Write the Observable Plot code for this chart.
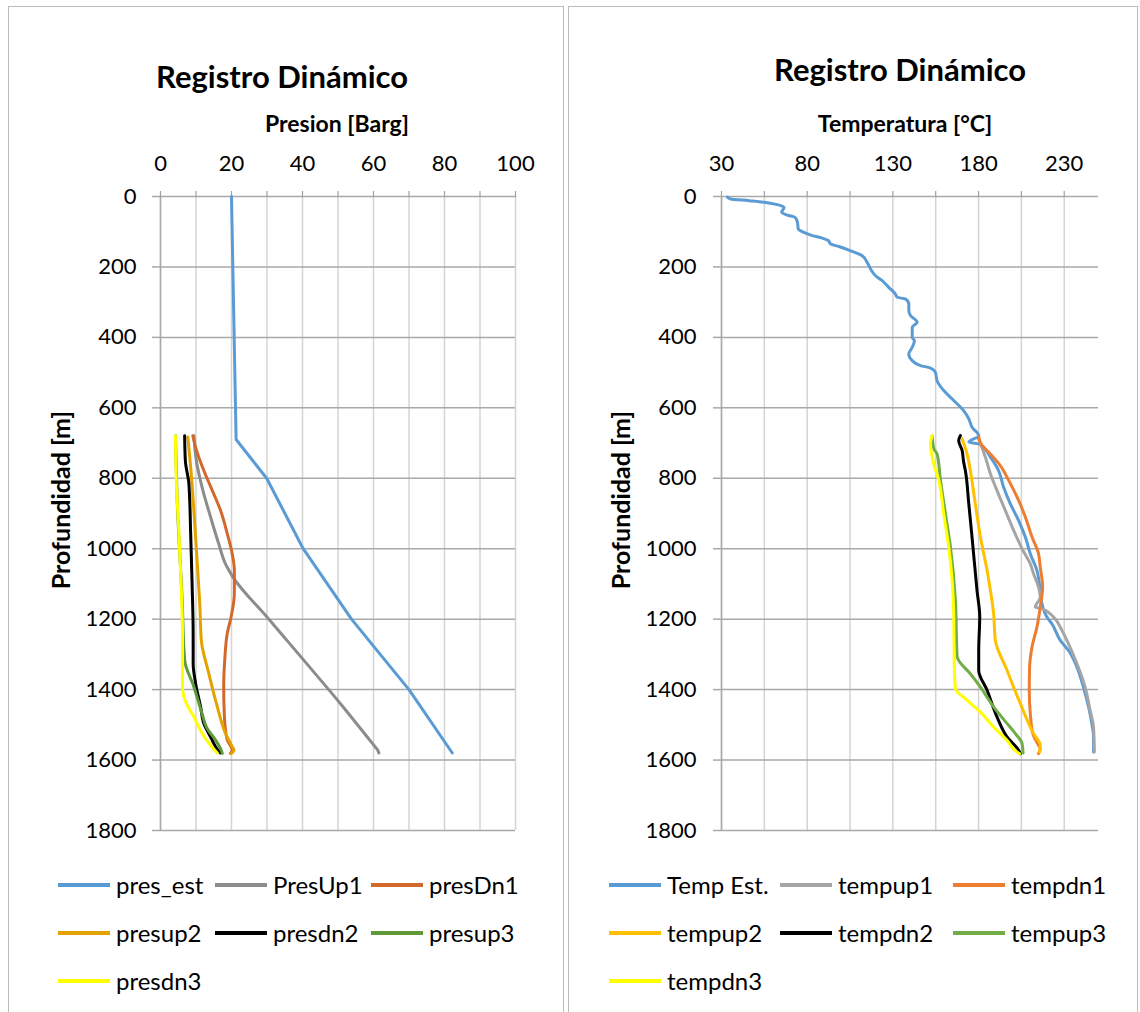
<!DOCTYPE html>
<html><head><meta charset="utf-8">
<script src="https://cdn.jsdelivr.net/npm/d3@7"></script>
<script src="https://cdn.jsdelivr.net/npm/@observablehq/plot@0.6"></script>
<style>
body{margin:0;background:#fff;font-family:Lato,"Open Sans",sans-serif;color:#000;}
#root{position:relative;width:1140px;height:1012px;overflow:hidden;}
.panel{position:absolute;border:1px solid #bcbcbc;box-sizing:border-box;}
.title{position:absolute;font-weight:700;font-size:31px;transform:translateX(-50%);white-space:nowrap;line-height:1;}
.xlabel{position:absolute;font-weight:700;font-size:23px;transform:translateX(-50%);white-space:nowrap;line-height:1;}
.ylabel{position:absolute;font-weight:700;font-size:25px;white-space:nowrap;line-height:1;transform:translate(-50%,-50%) rotate(-90deg);}
.chart{position:absolute;}
.leg{position:absolute;display:flex;align-items:center;font-size:24px;white-space:nowrap;transform:translateY(-50%);line-height:1;}
.sw{width:52px;height:4px;margin-right:6px;}
</style></head>
<body><div id="root"></div>
<script>
// ---------- axis values ----------
const depthTicks = [0,200,400,600,800,1000,1200,1400,1600,1800];
const presDomain = [0,100];
const presTickLabels = [0,20,40,60,80,100];
const presGrid = [0,10,20,30,40,50,60,70,80,90,100];
const tempDomain = [30,250];
const tempTickLabels = [30,80,130,180,230];
const tempGrid = [30,55,80,105,130,155,180,205,230];

// ---------- pressure series [Barg, depth m] ----------
const presNames = ["pres_est","PresUp1","presDn1","presup2","presdn2","presup3","presdn3"];
const presColors = ["#5B9BD5","#8C8C8C","#D2692A","#E3A200","#000000","#5E9A3A","#FFFF00"];
const pres_est = [[20,0],[21.3,690],[29.9,800],[40.2,1000],[53.8,1200],[70.0,1400],[82.2,1580]];
const PresUp1 = [[9.4,679],[10.1,750],[11.7,825],[14.1,910],[16.4,986],[18.3,1043],[20.7,1085],[30.0,1194],[40.4,1317],[50.7,1440],[60.1,1558],[61.2,1572],[61.5,1580]];
const presDn1 = [[9.1,679],[9.9,712],[12.2,778],[14.6,835],[16.9,891],[18.8,957],[20.2,1014],[20.8,1061],[20.8,1127],[19.9,1193],[18.8,1241],[18.1,1316],[17.8,1392],[18.0,1477],[18.8,1543],[20.2,1572],[19.7,1581]];
const presup2 = [[7.7,683],[8.5,768],[9.4,891],[10.3,1033],[11.1,1165],[11.5,1260],[13.6,1354],[16.0,1449],[18.3,1524],[20.2,1562],[20.7,1572],[20.0,1581]];
const presdn2 = [[6.8,679],[7.0,750],[8.0,816],[8.5,957],[8.9,1099],[9.2,1241],[9.2,1326],[9.9,1383],[11.3,1449],[12.2,1496],[14.1,1534],[16.2,1572],[16.9,1580]];
const presup3 = [[4.2,679],[4.7,863],[6.1,1146],[6.8,1316],[9.4,1392],[11.7,1468],[13.1,1510],[15.5,1543],[17.1,1572],[17.4,1581]];
const presdn3 = [[4.2,679],[4.5,816],[5.2,957],[5.8,1099],[6.2,1241],[6.2,1397],[7.5,1444],[9.4,1477],[11.7,1524],[14.1,1558],[16.0,1580]];

// ---------- temperature series [°C, depth m] ----------
const tempNames = ["Temp Est.","tempup1","tempdn1","tempup2","tempdn2","tempup3","tempdn3"];
const tempColors = ["#5B9BD5","#A5A5A5","#ED7D31","#FFC000","#000000","#70AD47","#FFFF00"];
const tempEst = [[33.5,2],[35.4,7],[46.1,12],[55.8,17],[62.6,23],[66.5,31],[65.1,45],[68.4,53],[72.9,59],[74.3,73],[74.8,92],[78.1,102],[83.0,111],[88.8,118],[92.3,125],[93.7,135],[98.5,142],[104.3,152],[112.1,168],[115.0,187],[117.0,206],[119.9,225],[123.8,239],[127.6,258],[131.5,277],[132.5,286],[137.4,291],[139.3,305],[139.3,324],[140.3,338],[144.2,357],[141.3,371],[141.3,400],[142.6,409],[141.3,428],[139.3,447],[141.3,466],[146.1,480],[151.9,487],[154.8,499],[155.8,523],[159.7,551],[165.5,579],[171.3,608],[174.3,631],[176.2,655],[180.1,679],[174.3,697],[181.1,704],[186.9,740],[191.7,778],[194.6,825],[198.5,872],[203.4,920],[207.3,967],[210.2,1014],[214.1,1062],[216.0,1118],[217.0,1156],[219.9,1194],[222.8,1213],[227.7,1260],[232.5,1289],[237.4,1336],[241.2,1393],[244.2,1449],[246.1,1496],[247.1,1534],[247.1,1577]];
const tempup1 = [[180.1,690],[181.1,702],[184.0,740],[186.9,787],[190.8,835],[195.6,891],[200.5,948],[205.4,1000],[210.2,1043],[212.1,1071],[215.0,1109],[216.0,1137],[213.1,1166],[217.0,1170],[223.8,1194],[228.7,1232],[232.5,1270],[237.4,1326],[242.2,1393],[245.1,1459],[247.1,1506],[247.6,1577]];
const tempdn1 = [[180.1,683],[182.0,707],[186.9,731],[192.7,764],[197.6,806],[203.4,863],[207.3,910],[211.2,967],[215.0,1014],[216.0,1052],[217.4,1109],[216.0,1166],[214.1,1222],[211.2,1279],[209.8,1336],[209.6,1402],[210.2,1468],[211.7,1525],[215.0,1558],[216.0,1567],[215.0,1582]];
const tempup2 = [[170.4,688],[173.3,731],[175.2,778],[178.1,872],[181.1,967],[185.0,1062],[186.9,1118],[188.8,1184],[189.8,1260],[196.6,1345],[204.4,1440],[212.1,1525],[216.0,1558],[215.6,1577]];
const tempdn2 = [[169.4,679],[168.4,693],[170.4,721],[171.3,754],[172.3,778],[174.3,872],[176.2,967],[179.1,1118],[180.7,1194],[180.1,1289],[180.1,1345],[185.0,1402],[190.8,1478],[196.6,1534],[203.4,1572],[204.4,1582]];
const tempup3 = [[152.9,679],[153.9,716],[155.8,731],[157.8,806],[160.7,901],[163.6,995],[166.5,1147],[167.5,1307],[168.4,1317],[175.2,1355],[181.1,1393],[188.8,1449],[196.6,1496],[201.5,1525],[205.4,1553],[206.0,1580]];
const tempdn3 = [[152.9,679],[151.9,702],[153.9,759],[156.8,806],[159.7,901],[162.6,995],[164.6,1090],[165.5,1184],[165.9,1345],[166.5,1397],[173.3,1430],[181.1,1464],[188.8,1506],[196.6,1544],[202.4,1577],[204.0,1582]];

const presSeries = [pres_est, PresUp1, presDn1, presup2, presdn2, presup3, presdn3];
const tempSeries = [tempEst, tempup1, tempdn1, tempup2, tempdn2, tempup3, tempdn3];

function rows(names, series){
  const out = [];
  series.forEach((s,i)=> s.forEach(([v,d])=> out.push({s:names[i], v, d})));
  return out;
}

const root = document.getElementById("root");
function add(cls, text, style){
  const el = document.createElement("div");
  el.className = cls; if (text != null) el.textContent = text;
  Object.assign(el.style, style); root.appendChild(el); return el;
}

function chart(cfg){
  const data = rows(cfg.names, cfg.series);
  const first = cfg.names[0];
  const lineOpts = {x: "v", y: "d", z: "s", stroke: "s", strokeWidth: 3, strokeLinejoin: "round", strokeLinecap: "round"};
  return Plot.plot({
    width: cfg.width, height: 740,
    marginLeft: cfg.ml, marginRight: cfg.mr, marginTop: 96, marginBottom: 10,
    x: {domain: cfg.domain},
    y: {domain: [0,1800], reverse: true},
    color: {domain: cfg.names, range: cfg.colors},
    style: {fontFamily: "Lato, 'Open Sans', sans-serif", fontSize: "22px", color: "#000", background: "transparent", overflow: "visible"},
    marks: [
      Plot.gridX(cfg.grid, {stroke: "#d4d4d4", strokeOpacity: 1, strokeWidth: 1.5}),
      Plot.gridY(depthTicks, {stroke: "#a9a9a9", strokeOpacity: 1, strokeWidth: 1.5}),
      Plot.ruleX([cfg.domain[0]], {stroke: "#a9a9a9", strokeWidth: 1.5}),
      Plot.axisX(cfg.grid, {anchor: "top", tickSize: 6, stroke: "#a0a0a0", strokeWidth: 1.2, tickFormat: () => "", label: null}),
      Plot.axisX(cfg.labels, {anchor: "top", tickSize: 0, tickPadding: 26, label: null, fontSize: 22, tickFormat: d => String(d)}),
      Plot.axisY(depthTicks, {anchor: "left", tickSize: 8, tickPadding: cfg.tp, stroke: "#a9a9a9", strokeWidth: 1.5, label: null, fontSize: 22, tickFormat: d => String(d)}),
      Plot.line(data.filter(r => r.s === first), {...lineOpts, curve: cfg.firstCurve}),
      Plot.line(data.filter(r => r.s !== first), {...lineOpts, curve: "monotone-y"})
    ]
  });
}

// panels
add("panel", null, {left: "8px", top: "6px", width: "556px", height: "1030px"});
add("panel", null, {left: "568px", top: "6px", width: "570px", height: "1030px"});

// left chart
const c1 = chart({width: 555, ml: 152, mr: 48, domain: presDomain, grid: presGrid, labels: presTickLabels, names: presNames, colors: presColors, series: presSeries, tp: 16, firstCurve: "linear"});
c1.classList.add("chart"); c1.style.left = "8px"; c1.style.top = "100px"; root.appendChild(c1);
// right chart
const c2 = chart({width: 570, ml: 153, mr: 40, domain: tempDomain, grid: tempGrid, labels: tempTickLabels, names: tempNames, colors: tempColors, series: tempSeries, tp: 17, firstCurve: "monotone-y"});
c2.classList.add("chart"); c2.style.left = "568px"; c2.style.top = "100px"; root.appendChild(c2);

// titles & labels
add("title", "Registro Dinámico", {left: "282px", top: "61px"});
add("title", "Registro Dinámico", {left: "900px", top: "54px"});
add("xlabel", "Presion [Barg]", {left: "337px", top: "112px"});
add("xlabel", "Temperatura [°C]", {left: "905px", top: "112px"});
add("ylabel", "Profundidad [m]", {left: "60px", top: "500px"});
add("ylabel", "Profundidad [m]", {left: "620px", top: "500px"});

// legends
function legend(names, colors, cols){
  const rowsY = [885, 933, 981];
  names.forEach((n,i)=>{
    const el = add("leg", null, {left: cols[i%3] + "px", top: rowsY[Math.floor(i/3)] + "px"});
    const sw = document.createElement("div"); sw.className = "sw"; sw.style.background = colors[i];
    const tx = document.createElement("span"); tx.textContent = n;
    el.appendChild(sw); el.appendChild(tx);
  });
}
legend(presNames, presColors, [58, 215, 371]);
legend(tempNames, tempColors, [609, 780, 953]);
</script>
</body></html>
